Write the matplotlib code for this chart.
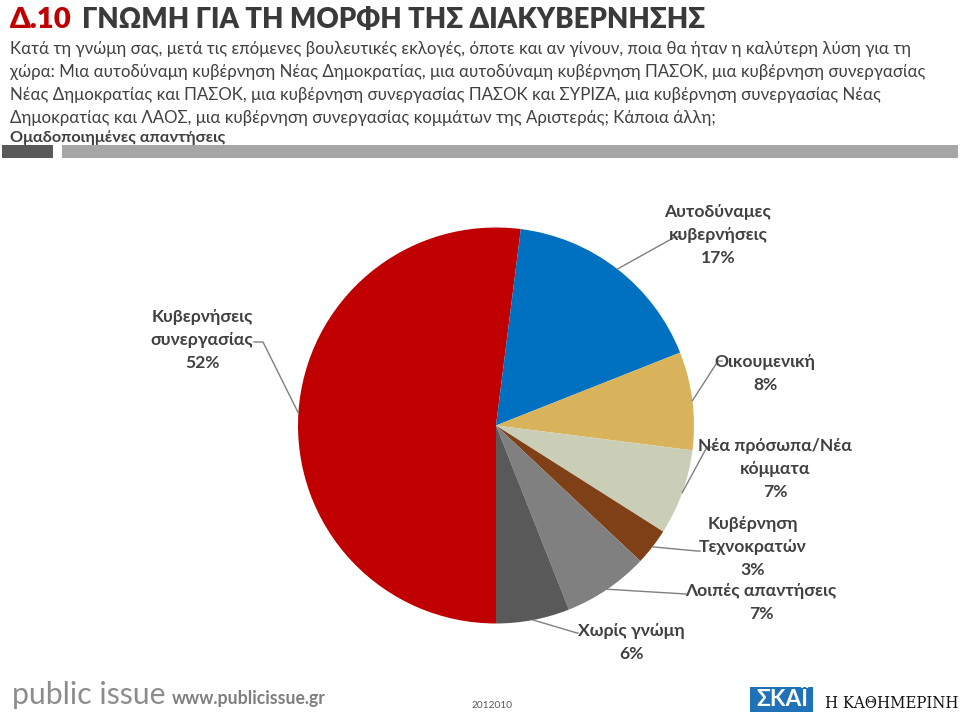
import matplotlib
matplotlib.use("Agg")
import matplotlib.pyplot as plt
from matplotlib.patches import Rectangle
import numpy as np

W, H = 960, 716

# ---- data ----
categories = ["Κυβερνήσεις\nσυνεργασίας", "Αυτοδύναμες\nκυβερνήσεις", "Οικουμενική",
              "Νέα πρόσωπα/Νέα\nκόμματα", "Κυβέρνηση\nΤεχνοκρατών", "Λοιπές απαντήσεις",
              "Χωρίς γνώμη"]
values = [52, 17, 8, 7, 3, 7, 6]
colors = ["#C00000", "#0070C0", "#D9B25C", "#CBCEB6", "#7F3F17", "#808080", "#595959"]

title_code = "Δ.10"
title_text = "ΓΝΩΜΗ ΓΙΑ ΤΗ ΜΟΡΦΗ ΤΗΣ ΔΙΑΚΥΒΕΡΝΗΣΗΣ"
subtitle_lines = [
    "Κατά τη γνώμη σας, μετά τις επόμενες βουλευτικές εκλογές, όποτε και αν γίνουν, ποια θα ήταν η καλύτερη λύση για τη",
    "χώρα: Μια αυτοδύναμη κυβέρνηση Νέας Δημοκρατίας, μια αυτοδύναμη κυβέρνηση ΠΑΣΟΚ, μια κυβέρνηση συνεργασίας",
    "Νέας Δημοκρατίας και ΠΑΣΟΚ, μια κυβέρνηση συνεργασίας ΠΑΣΟΚ και ΣΥΡΙΖΑ, μια κυβέρνηση συνεργασίας Νέας",
    "Δημοκρατίας και ΛΑΟΣ, μια κυβέρνηση συνεργασίας κομμάτων της Αριστεράς; Κάποια άλλη;",
]
subtitle_bold = "Ομαδοποιημένες απαντήσεις"

FONT = ["Lato", "DejaVu Sans"]
plt.rcParams["font.family"] = FONT

fig = plt.figure(figsize=(W / 100, H / 100), dpi=100)
ax = fig.add_axes([0, 0, 1, 1])
renderer = fig.canvas.get_renderer()

def Y(py):
    return H - py

def fit_text(x, py, s, width=None, size=12, **kw):
    t = ax.text(x, Y(py), s, fontsize=size, va="baseline", **kw)
    if width:
        w = t.get_window_extent(renderer).width
        t.set_fontsize(size * width / w)
    return t

# ---- pie ----
cx, cy, R = 496, Y(425.5), 198
wedges, _ = ax.pie(values, colors=colors, startangle=270, counterclock=False,
                   center=(cx, cy), radius=R, wedgeprops=dict(linewidth=0))
ax.set_xlim(0, W)
ax.set_ylim(0, H)
ax.set_aspect("equal")
ax.axis("off")

# ---- title ----
tc = fit_text(10, 28, title_code, width=62, size=26, color="#C00000", fontweight="heavy")
tt = fit_text(82, 28, title_text, width=623, size=26, color="#3A3A3A", fontweight="heavy")

# ---- subtitle ----
t0 = fit_text(10, 54, subtitle_lines[0], width=903, size=12, color="#404040")
fs = t0.get_fontsize()
for i, line in enumerate(subtitle_lines[1:]):
    fit_text(10, 77 + 23 * i, line, size=fs, color="#404040")
fit_text(10, 142, subtitle_bold, width=214, size=12, color="#404040", fontweight="bold")

ax.add_patch(Rectangle((2, Y(158)), 51, 13, color="#595959", lw=0))
ax.add_patch(Rectangle((62, Y(158)), 896, 13, color="#A6A6A6", lw=0))

# ---- labels ----
tmp = fit_text(0, 0, "Λοιπές απαντήσεις", width=150, size=12, fontweight="bold")
lfs = tmp.get_fontsize()
tmp.remove()

label_pos = [  # (center x, first baseline, line knee, line end)
    (202, 322, (263, 342), (254, 342)),
    (718, 217, (675, 237), (681, 237)),
    (765, 367, (718, 361), (722, 361)),
    (775, 451, (707, 447), (712, 447)),
    (753, 529, (697, 551), (700, 551)),
    (761, 596, (686, 594), (686, 594)),
    (631, 636, (577, 633), (578, 633)),
]
for w, cat, val, (lx, ly, knee, end) in zip(wedges, categories, values, label_pos):
    lines = cat.split("\n") + [f"{val}%"]
    for k, s in enumerate(lines):
        ax.text(lx, Y(ly + 23 * k), s, fontsize=lfs, fontweight="bold", color="#404040",
                ha="center", va="baseline")
    mid = np.deg2rad((w.theta1 + w.theta2) / 2)
    sx, sy = cx + R * np.cos(mid), cy + R * np.sin(mid)
    ax.plot([sx, knee[0], end[0]], [sy, Y(knee[1]), Y(end[1])], color="#7F7F7F", lw=1)

# ---- footer ----
fit_text(12, 704, "public issue", width=153, size=18, color="#8C8C8C",
         family=["Lato", "DejaVu Sans"])
fit_text(172, 704, "www.publicissue.gr", width=153, size=11, color="#7F7F7F", fontweight="bold")
fit_text(472, 708, "2012010", width=41, size=7, color="#595959")
ax.add_patch(Rectangle((750, Y(712)), 63, 25, color="#1F71B8", lw=0))
fit_text(756, 706, "ΣΚΑΪ", width=52, size=13, color="white", fontweight="bold")
fit_text(825, 708, "Η ΚΑΘΗΜΕΡΙΝΗ", width=133, size=14, color="#111111",
         family=["DejaVu Serif", "DejaVu Sans"], fontstretch="condensed")

fig.savefig("out.png", dpi=100)
